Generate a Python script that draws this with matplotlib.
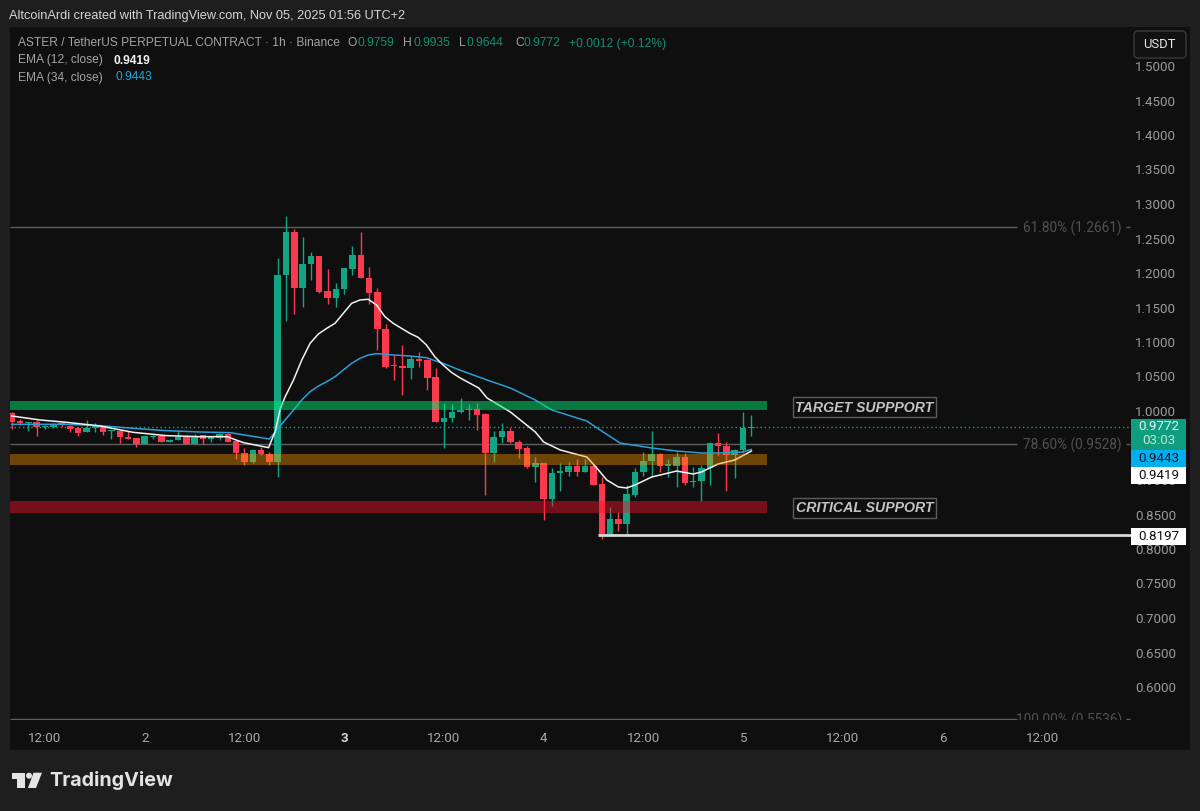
# -*- coding: utf-8 -*-
import matplotlib
matplotlib.use("Agg")
import numpy as np
import matplotlib.pyplot as plt
from matplotlib.patches import Rectangle, Polygon, Circle, FancyBboxPatch

plt.rcParams['font.family'] = ['Roboto', 'DejaVu Sans']

# hours since Nov 1 12:00, first candle is h = -4
first_hour = -4
opens = [.9976,.9850,.9821,.9836,.9768,.9773,.9821,.9788,.9749,.9696,.9754,.9768,.9715,.9710,.9623,.9604,.9522,.9618,.9643,.9556,
         .9585,.9623,.9522,.9648,.9594,.9614,.9662,.9565,.9391,.9256,.9435,.9372,.9261,1.1971,1.2590,1.1787,1.2126,1.2246,1.1739,1.1642,
         1.1764,1.2062,1.2257,1.1928,1.1720,1.1193,1.0667,1.0652,1.0628,1.0754,1.0735,1.0488,.9836,.9903,.9986,1.0010,1.0029,.9952,.9391,.9619,
         .9710,.9551,.9459,.9188,.9242,.8725,.9097,.9116,.9203,.9116,.9199,.8938,.8199,.8430,.8358,.8787,.9112,.9275,.9377,.9207,
         .9207,.9329,.8967,.8981,.9174,.9541,.9497,.9358,.9435,.9759]
highs = [.9990,.9879,.9845,.9870,.9797,.9821,.9860,.9802,.9763,.9870,.9821,.9783,.9725,.9725,.9715,.9614,.9633,.9657,.9652,.9594,
         .9715,.9628,.9667,.9652,.9628,.9686,.9676,.9580,.9459,.9445,.9474,.9411,1.2222,1.2826,1.2633,1.2526,1.2309,1.2246,1.2058,1.1851,
         1.2068,1.2391,1.2594,1.2083,1.1778,1.1257,1.0812,1.0957,1.0801,1.0859,1.0754,1.0623,1.0120,1.0101,1.0184,1.0101,1.0112,.9967,.9714,.9830,
         .9758,.9580,.9493,.9329,.9251,.9170,.9251,.9265,.9300,.9304,.9232,.9048,.8613,.8536,.8932,.9170,.9410,.9710,.9387,.9300,
         .9410,.9396,.9184,.9217,.9551,.9677,.9555,.9445,.9986,.9935]
lows = [.9734,.9797,.9715,.9643,.9734,.9759,.9773,.9701,.9643,.9696,.9701,.9648,.9594,.9532,.9594,.9483,.9522,.9589,.9546,.9551,
        .9580,.9522,.9522,.9517,.9556,.9580,.9546,.9300,.9213,.9251,.9362,.9222,.9039,1.1304,1.1401,1.1512,1.1899,1.1706,1.1546,1.1512,
        1.1691,1.1971,1.1928,1.1551,1.0884,1.0628,1.0449,1.0232,1.0459,1.0633,1.0304,.9836,.9468,.9845,.9975,.9870,.9725,.8783,.9257,.9532,
        .9532,.9323,.9170,.8975,.8420,.8623,.8845,.9058,.9062,.9116,.8923,.8141,.8199,.8265,.8203,.8758,.9058,.9048,.9120,.9039,
        .8894,.8928,.8894,.8696,.8932,.9362,.8845,.9025,.9387,.9644]
closes = [.9846,.9831,.9836,.9768,.9788,.9802,.9807,.9734,.9686,.9759,.9778,.9696,.9725,.9623,.9599,.9522,.9633,.9638,.9556,.9585,
          .9623,.9522,.9643,.9594,.9618,.9662,.9556,.9391,.9256,.9435,.9377,.9261,1.1971,1.2590,1.1787,1.2130,1.2251,1.1729,1.1642,1.1768,
          1.2068,1.2257,1.1928,1.1714,1.1188,1.0642,1.0648,1.0628,1.0754,1.0729,1.0483,.9836,.9903,.9986,1.0010,1.0029,.9942,.9391,.9619,.9710,
          .9546,.9454,.9184,.9246,.8725,.9101,.9126,.9203,.9116,.9199,.8928,.8199,.8430,.8358,.8793,.9112,.9280,.9377,.9207,.9228,
          .9329,.8961,.8986,.9174,.9541,.9497,.9362,.9435,.9754,.9772]

ema12_h = [-4,-.6,2.6,6.6,10.6,14.6,18.6,21.9,23.9,26.9,27.7,28.3,28.9,29.9,30.9,31.9,32.9,33.9,34.9,35.9,36.9,37.9,38.9,39.9,40.9,41.9,42.9,43.9,44.9,45.9,46.9,47.9,48.9,49.9,
           52.2,53.2,56,59,60,62,65.2,66.4,67.6,69,70,71,73,75,76,78,79,81,83,85]
ema12 = [.9928,.9870,.9836,.9783,.9691,.9643,.9628,.9628,.9541,.9469,.9701,1.0029,1.0207,1.0449,1.0739,1.0981,1.1116,1.1198,1.1271,1.1416,1.1560,1.1609,1.1619,1.1536,1.1367,1.1271,1.1198,1.1126,1.1068,1.0957,1.0787,1.0667,1.0561,1.0483,
         1.0333,1.0188,.9986,.9696,.9551,.9435,.9333,.9174,.9000,.8899,.8884,.8928,.9043,.9101,.9130,.9087,.9116,.9232,.9290,.9419]
ema34_h = [-4,-1.4,2.6,6.6,10.6,14.6,18.6,22.3,27,28.3,29.9,30.9,31.9,32.9,33.9,34.9,35.9,36.9,37.9,38.9,39.9,40.9,41.9,43.9,45.9,46.9,47.9,48.9,49.9,53.2,56,59,61,65.2,66.8,69.2,73,76,79,81,84,85]
ema34 = [.9807,.9807,.9807,.9788,.9749,.9715,.9696,.9686,.9594,.9783,1.0014,1.0159,1.0280,1.0362,1.0425,1.0497,1.0594,1.0691,1.0763,1.0812,1.0831,1.0822,1.0812,1.0797,1.0773,1.0729,1.0691,1.0642,1.0594,1.0449,1.0333,1.0159,1.0014,.9855,.9725,.9536,.9464,.9420,.9391,.9391,.9406,.9443]

# zones (low, high)
zone_green = (1.0014, 1.0145)
zone_brown = (.9222, .9377)
zone_red = (.8522, .8696)
zone_end = 86.9

fib_levels = [1.2661, .9528, .5536]
fib_labels = ["61.80% (1.2661)", "78.60% (0.9528)", "100.00% (0.5536)"]
last_close = .9772
swing_low = .8197
swing_start = 66.6

price_ticks = [.60,.65,.70,.75,.80,.85,.90,.95,1.00,1.05,1.10,1.15,1.20,1.25,1.30,1.35,1.40,1.45,1.50]
time_ticks = [0,12,24,36,48,60,72,84,96,108,120]
time_labels = ["12:00","2","12:00","3","12:00","4","12:00","5","12:00","6","12:00"]

BG = "#1e1e1e"
PANE = "#0f0f0f"
GREEN = "#12a584"
RED = "#fb3a50"
GRID = "#5f5f5f"
W, H = 1200, 811

fig = plt.figure(figsize=(12, 8.11), dpi=100, facecolor=BG)
fig.add_artist(Rectangle((10/W, 1-750/H), 1180/W, 723/H, transform=fig.transFigure, fc=PANE, ec="none", zorder=-5))

ax = fig.add_axes([10/W, 1-720/H, 1180/W, 693/H], facecolor=PANE)
ax.set_zorder(1)
hours = np.arange(first_hour, first_hour+len(opens))
x_left = (10-45)/8.31
x_right = (1190-45)/8.31
ax.set_xlim(x_left, x_right)
ax.set_ylim(1+(411-720)/690, 1+(411-27)/690)

opens_a, closes_a = np.array(opens), np.array(closes)
up = closes_a >= opens_a
colors = [GREEN if u else RED for u in up]
ax.vlines(hours, lows, highs, colors=colors, lw=1.0, zorder=2)
ax.bar(hours, np.abs(closes_a-opens_a), bottom=np.minimum(opens_a, closes_a), width=.78, color=colors, zorder=3)

ax.plot(ema34_h, ema34, color="#2a9fd6", lw=1.1, zorder=4, solid_joinstyle="round")
ax.plot(ema12_h, ema12, color="#f2f2f2", lw=1.1, zorder=5, solid_joinstyle="round")

ax.fill_between([x_left, zone_end], zone_green[0], zone_green[1], color="#00e676", alpha=.5, lw=0, zorder=6)
ax.fill_between([x_left, zone_end], zone_brown[0], zone_brown[1], color="#ff9800", alpha=.4, lw=0, zorder=6)
ax.fill_between([x_left, zone_end], zone_red[0], zone_red[1], color="#f2132a", alpha=.45, lw=0, zorder=6)

# fib levels
fib_end = (1016.5-45)/8.31
for lvl, lab in zip(fib_levels, fib_labels):
    ax.hlines(lvl, x_left, fib_end, color=GRID, lw=1, zorder=1)
    ax.hlines(lvl, (1126-45)/8.31, (1130-45)/8.31, color=GRID, lw=1, zorder=1)
    ax.annotate(lab, ((1122-45)/8.31, lvl), xytext=(0, -1), textcoords="offset points", color="#505153", fontsize=9.8,
                ha="right", va="center", zorder=2, annotation_clip=False, clip_on=True)

ax.hlines(last_close, x_left, (1131-45)/8.31, color="#12a584", lw=1, linestyles=(0, (1, 2)), zorder=1)
ax.hlines(swing_low, swing_start, (1131-45)/8.31, color="#d8d8d8", lw=2, zorder=7)

ax.set_yticks(price_ticks)
ax.set_yticklabels(["%.4f" % p for p in price_ticks])
ax.yaxis.tick_right()
ax.tick_params(axis="y", length=0, pad=-10, labelsize=9.6, labelcolor="#9a9a9a")
for t in ax.get_yticklabels():
    t.set_ha("right")
ax.set_xticks(time_ticks)
ax.set_xticklabels(time_labels)
ax.tick_params(axis="x", length=0, pad=9, labelsize=9.6, labelcolor="#a8a8a8")
for t in ax.get_xticklabels():
    if t.get_text() == "3":
        t.set_fontweight("bold")
        t.set_color("#d4d4d4")
for s in ax.spines.values():
    s.set_visible(False)

# everything that sits at fixed screen position goes on a pixel overlay
ov = fig.add_axes([0, 0, 1, 1], facecolor="none")
ov.set_zorder(2)
ov.set_xlim(0, W)
ov.set_ylim(H, 0)
ov.axis("off")

ov.text(9, 15.5, "AltcoinArdi created with TradingView.com, Nov 05, 2025 01:56 UTC+2", color="#d6d6d6",
        fontsize=9.2, family="Liberation Sans", va="center")

GR = "#a4a4a4"
TEAL = "#0f8f74"
def legend_text(x, y, s, c=GR, w="normal"):
    ov.text(x, y, s, color=c, fontsize=8.65, family="Liberation Sans", va="center", fontweight=w)

legend_text(18, 43.5, "ASTER / TetherUS PERPETUAL CONTRACT · 1h · Binance")
for x, s, c in [(347.5, "O", GR), (357.5, "0.9759", TEAL), (403.5, "H", GR), (413, "0.9935", TEAL), (459.5, "L", GR),
                (466.5, "0.9644", TEAL), (515, "C", GR), (523.5, "0.9772", TEAL), (569, "+0.0012 (+0.12%)", TEAL)]:
    legend_text(x, 43.5, s, c)
legend_text(18, 60.5, "EMA (12, close)")
legend_text(113.5, 60.5, "0.9419", "#f2f2f2", "bold")
legend_text(18, 77.5, "EMA (34, close)")
legend_text(115.5, 77.5, "0.9443", "#1ea7e0")

# currency button
ov.add_patch(FancyBboxPatch((1135, 32), 50, 25, boxstyle="round,pad=1,rounding_size=4", fc="#111111", ec="#3a3a3a", lw=1))
ov.text(1159.5, 44.5, "USDT", color="#e6e6e6", fontsize=9.4, ha="center", va="center")

# support labels
for y0, s in [(397, "TARGET SUPPPORT"), (497.5, "CRITICAL SUPPORT")]:
    ov.add_patch(Rectangle((793, y0), 143, 20, fc=PANE, ec="#5c5c5c", lw=1))
    ov.text(864.5, y0+10.5, s, color="#c4c4c4", fontsize=10.2, style="italic", fontweight="bold", ha="center", va="center",
            family="Liberation Sans")

# price tags
ov.add_patch(Rectangle((1131, 419), 55, 31, fc="#0f9d7f", ec="none"))
ov.text(1158.5, 427, "0.9772", color="#e6f4ef", fontsize=9.6, ha="center", va="center")
ov.text(1158.5, 441, "03:03", color="#bfe3d8", fontsize=9.6, ha="center", va="center")
ov.add_patch(Rectangle((1131, 450), 55, 17, fc="#00aeef", ec="none"))
ov.text(1158.5, 458.5, "0.9443", color="#0b1d28", fontsize=9.6, ha="center", va="center")
ov.add_patch(Rectangle((1131, 467), 55, 17, fc="#ffffff", ec="none"))
ov.text(1158.5, 475.5, "0.9419", color="#111111", fontsize=9.6, ha="center", va="center")
ov.add_patch(Rectangle((1131, 528), 55, 17, fc="#ffffff", ec="none"))
ov.text(1158.5, 536.5, "0.8197", color="#111111", fontsize=9.6, ha="center", va="center")

# logo
LOGO = "#e4e4e4"
ov.add_patch(Polygon([(12, 772.7), (25.3, 772.7), (25.3, 788), (17.3, 788), (17.3, 778.5), (12, 778.5)], fc=LOGO, ec="none"))
ov.add_patch(Circle((29, 775.7), 3, fc=LOGO, ec="none"))
ov.add_patch(Polygon([(33.5, 772.7), (42, 772.7), (36, 788), (28, 788)], fc=LOGO, ec="none"))
ov.text(49, 781, "TradingView", color=LOGO, fontsize=14.2, family="Inter", fontweight="bold", va="center")

fig.savefig("out.png", dpi=100, facecolor=BG)
